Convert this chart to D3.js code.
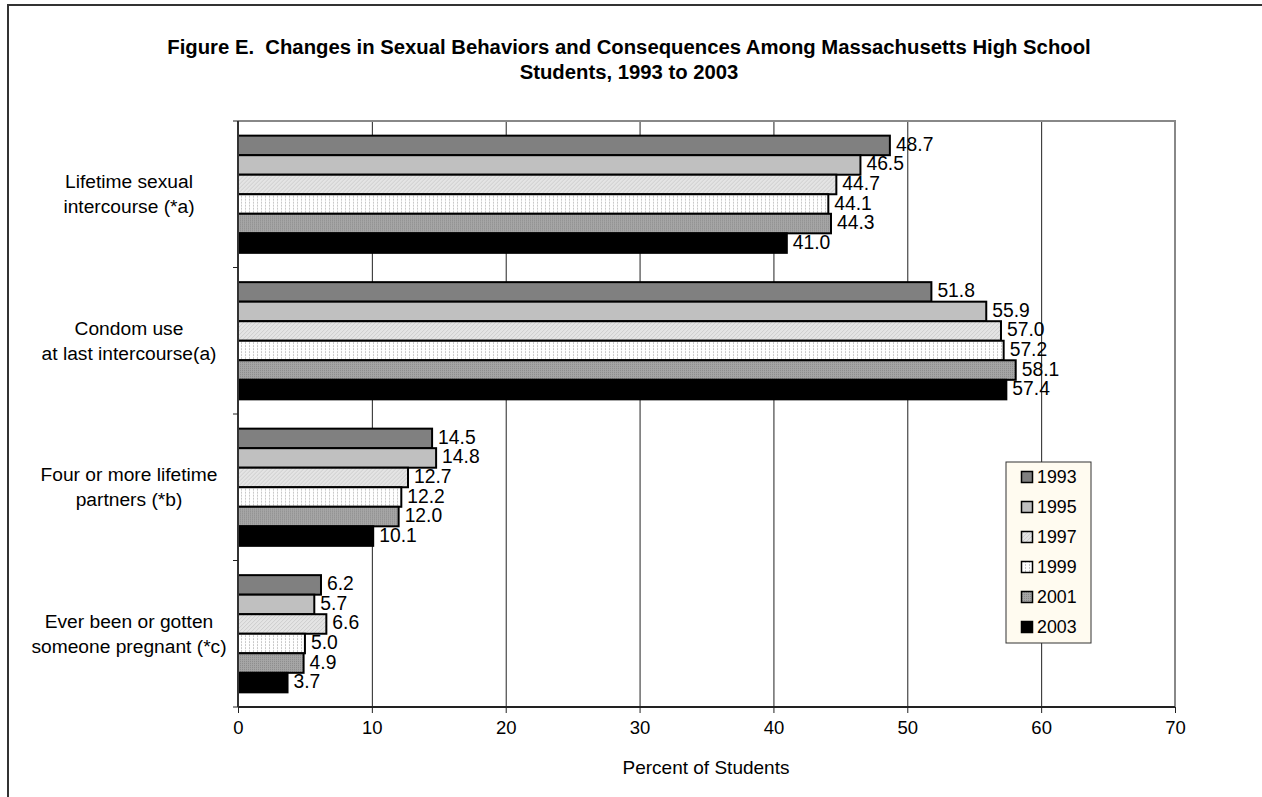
<!DOCTYPE html>
<html>
<head>
<meta charset="utf-8">
<script src="https://cdn.jsdelivr.net/npm/d3@7/dist/d3.min.js"></script>
<style>
  html, body { margin: 0; padding: 0; background: #fff; }
  svg { display: block; font-family: "Liberation Sans", Arial, sans-serif; }
  .title { white-space: pre; }
</style>
</head>
<body>
<svg id="chart" width="1262" height="797"></svg>
<script>
// Behaviour categories (top to bottom), each split into two text lines
const categories = [
  "Lifetime sexual intercourse (*a)",
  "Condom use at last intercourse(a)",
  "Four or more lifetime partners (*b)",
  "Ever been or gotten someone pregnant (*c)"
];
const categoryLines = [
  ["Lifetime sexual", "intercourse (*a)"],
  ["Condom use", "at last intercourse(a)"],
  ["Four or more lifetime", "partners (*b)"],
  ["Ever been or gotten", "someone pregnant (*c)"]
];
const years = ["1993", "1995", "1997", "1999", "2001", "2003"];

// Percent of students, one array per survey year (same order as categories)
const values1993 = [48.7, 51.8, 14.5, 6.2];
const values1995 = [46.5, 55.9, 14.8, 5.7];
const values1997 = [44.7, 57.0, 12.7, 6.6];
const values1999 = [44.1, 57.2, 12.2, 5.0];
const values2001 = [44.3, 58.1, 12.0, 4.9];
const values2003 = [41.0, 57.4, 10.1, 3.7];
const seriesValues = [values1993, values1995, values1997, values1999, values2001, values2003];

const xTicks = [0, 10, 20, 30, 40, 50, 60, 70];
const titleLines = [
  "Figure E.  Changes in Sexual Behaviors and Consequences Among Massachusetts High School",
  "Students, 1993 to 2003"
];
const xAxisTitle = "Percent of Students";

const svg = d3.select("#chart");
const defs = svg.append("defs");

// Fill patterns for each year
function solid(id, color) {
  const p = defs.append("pattern").attr("id", id).attr("patternUnits", "userSpaceOnUse")
    .attr("width", 4).attr("height", 4);
  p.append("rect").attr("width", 4).attr("height", 4).attr("fill", color);
  return p;
}
solid("p1993", "#808080");
solid("p1995", "#c0c0c0");
{
  const p = defs.append("pattern").attr("id", "p1997").attr("patternUnits", "userSpaceOnUse")
    .attr("width", 4).attr("height", 4);
  p.append("rect").attr("width", 4).attr("height", 4).attr("fill", "#e4e4e4");
  p.append("path").attr("d", "M0,4 L4,0 M-1,1 L1,-1 M3,5 L5,3")
    .attr("stroke", "#cdcdcd").attr("stroke-width", 1);
}
{
  const p = defs.append("pattern").attr("id", "p1999").attr("patternUnits", "userSpaceOnUse")
    .attr("width", 4).attr("height", 3);
  p.append("rect").attr("width", 4).attr("height", 3).attr("fill", "#ffffff");
  p.append("rect").attr("x", 1).attr("y", 0).attr("width", 1).attr("height", 2).attr("fill", "#c8c8c8");
}
{
  const p = defs.append("pattern").attr("id", "p2001").attr("patternUnits", "userSpaceOnUse")
    .attr("width", 2).attr("height", 2);
  p.append("rect").attr("width", 2).attr("height", 2).attr("fill", "#a6a6a6");
  p.append("rect").attr("x", 0).attr("y", 0).attr("width", 1).attr("height", 1).attr("fill", "#8a8a8a");
}
solid("p2003", "#000000");

const fills = years.map(yr => `url(#p${yr})`);

// Outer frame (extends beyond the visible area on the right and bottom)
svg.append("rect").attr("x", 8).attr("y", 5).attr("width", 1300).attr("height", 900)
  .attr("fill", "none").attr("stroke", "#333").attr("stroke-width", 2);

// Title
svg.append("g").selectAll("text").data(titleLines).join("text")
  .attr("class", "title")
  .attr("x", 629).attr("y", (d, i) => 54 + i * 25)
  .attr("text-anchor", "middle").attr("font-size", 20.3).attr("font-weight", "bold")
  .attr("fill", "#000").text(d => d);

const plotLeft = 238, plotRight = 1175, plotTop = 121, plotBottom = 707;

const x = d3.scaleLinear().domain([0, 70]).range([plotLeft, plotRight]);
const y = d3.scaleBand().domain(categories).range([plotTop, plotBottom]).paddingInner(0.2).paddingOuter(0.1);
const yInner = d3.scaleBand().domain(years).range([0, y.bandwidth()]);

// Vertical gridlines
svg.append("g").selectAll("line").data(xTicks.filter(t => t > 0 && t < 70)).join("line")
  .attr("x1", d => x(d) + 0.5).attr("x2", d => x(d) + 0.5)
  .attr("y1", plotTop).attr("y2", plotBottom)
  .attr("stroke", "#222").attr("stroke-width", 1);

// Plot area top and right border
svg.append("path")
  .attr("d", `M${plotLeft},${plotTop} H${plotRight} V${plotBottom}`)
  .attr("fill", "none").attr("stroke", "#888").attr("stroke-width", 2);

// Bars
const groups = svg.append("g").selectAll("g").data(categories).join("g")
  .attr("transform", d => `translate(0,${y(d)})`);

groups.each(function (cat, ci) {
  const g = d3.select(this);
  years.forEach((yr, si) => {
    const v = seriesValues[si][ci];
    g.append("rect")
      .attr("x", x(0)).attr("y", yInner(yr))
      .attr("width", x(v) - x(0)).attr("height", yInner.bandwidth())
      .attr("fill", fills[si]).attr("stroke", "#000").attr("stroke-width", 2);
  });
  years.forEach((yr, si) => {
    const v = seriesValues[si][ci];
    g.append("text")
      .attr("x", x(v) + 6).attr("y", yInner(yr) + yInner.bandwidth() / 2 - 1)
      .attr("dominant-baseline", "central")
      .attr("font-size", 19.3).attr("fill", "#000")
      .text(v.toFixed(1));
  });
});

// X axis
const xAxis = d3.axisBottom(x).tickValues(xTicks).tickSize(6).tickPadding(8).tickFormat(d3.format("d"));
const gx = svg.append("g").attr("transform", `translate(0,${plotBottom})`).call(xAxis);
gx.select(".domain").attr("stroke", "#222").attr("stroke-width", 2).attr("d", `M${plotLeft},0H${plotRight}`);
gx.selectAll(".tick line").attr("stroke", "#222");
gx.selectAll(".tick text").attr("font-size", 18.5).attr("font-family", "Liberation Sans, Arial, sans-serif").attr("fill", "#000");

// Y axis line and ticks at category boundaries
const bounds = d3.range(categories.length + 1).map(i => plotTop + i * y.step());
svg.append("line").attr("x1", plotLeft).attr("x2", plotLeft).attr("y1", plotTop).attr("y2", plotBottom)
  .attr("stroke", "#333").attr("stroke-width", 2);
svg.append("g").selectAll("line").data(bounds).join("line")
  .attr("x1", plotLeft - 5).attr("x2", plotLeft).attr("y1", d => d).attr("y2", d => d)
  .attr("stroke", "#222").attr("stroke-width", 1);

// Category labels
const catG = svg.append("g");
categories.forEach((c, i) => {
  const cy = y(c) + y.bandwidth() / 2;
  catG.append("text").attr("x", 129).attr("y", cy)
    .attr("text-anchor", "middle").attr("font-size", 19.2).attr("fill", "#000")
    .selectAll("tspan").data(categoryLines[i]).join("tspan")
    .attr("x", 129).attr("y", (d, j) => cy - 12.5 + j * 25)
    .attr("dominant-baseline", "central").text(d => d);
});

// X axis title
svg.append("text").attr("x", 706).attr("y", 774)
  .attr("text-anchor", "middle").attr("font-size", 19).attr("fill", "#000").text(xAxisTitle);

// Legend
const lg = svg.append("g");
lg.append("rect").attr("x", 1006).attr("y", 462).attr("width", 85).attr("height", 181)
  .attr("fill", "#fffbf0").attr("stroke", "#333").attr("stroke-width", 1);
years.forEach((yr, i) => {
  const cy = 477 + i * 30;
  lg.append("rect").attr("x", 1021.5).attr("y", cy - 5.5).attr("width", 11).attr("height", 11)
    .attr("fill", fills[i]).attr("stroke", "#000").attr("stroke-width", 1.5);
  lg.append("text").attr("x", 1037).attr("y", cy).attr("dominant-baseline", "central")
    .attr("font-size", 17.8).attr("fill", "#000").text(yr);
});
</script>
</body>
</html>
